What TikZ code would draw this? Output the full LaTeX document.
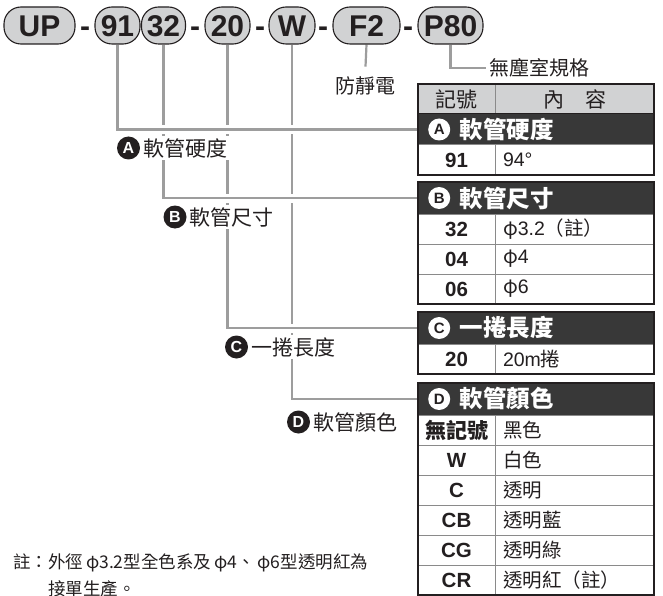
\documentclass[tikz,border=0pt]{standalone}
\usepackage{fontspec}
\setmainfont{Liberation Sans}
\newfontfamily\cjk{Noto Sans CJK TC}
\usetikzlibrary{positioning,backgrounds}
\definecolor{inkc}{HTML}{231F20}
\definecolor{pillg}{HTML}{D1D2D3}
\definecolor{wireg}{HTML}{9D9D9D}
\definecolor{barg}{HTML}{383838}
\definecolor{ruleg}{HTML}{8A8A8A}
\newcommand{\fsz}[1]{\fontsize{#1}{#1}\selectfont}

\begin{document}
\begin{tikzpicture}[
  x=1pt, y=-1pt,
  pill/.style={draw=inkc, line width=1.1pt, fill=pillg, rounded corners=17pt,
    minimum height=37pt, minimum width=#1, inner sep=0pt,
    text height=22pt, text depth=0pt, font=\fsz{30}\bfseries, text=inkc},
  hyph/.style={inner sep=0pt, text height=22pt, text depth=0pt,
    font=\fsz{30}\bfseries, text=inkc},
  wire/.style={draw=wireg, line width=2.2pt, preaction={draw=white, line width=9pt}},
  badge/.style={circle, fill=inkc, text=white, inner sep=0pt, minimum size=23pt,
    font=\fsz{16}\bfseries},
  tagtext/.style={fill=white, inner xsep=3pt, inner ysep=2pt, font=\cjk\fsz{21}, text=inkc},
  notelabel/.style={inner sep=0pt, font=\cjk\fsz{20}, text=inkc},
  remark/.style={inner sep=0pt, align=left, font=\cjk\fsz{17.5}, text=inkc},
  cell/.style={draw=ruleg, line width=1pt, fill=white, inner sep=0pt, outer sep=0pt,
    minimum height=30pt, anchor=north west, text=inkc},
  codecell/.style={cell, minimum width=77pt, font=\fsz{20.5}\bfseries},
  infocell/.style={cell, text width=143pt, inner xsep=8pt, align=left, font=\fsz{19.5}},
  headcell/.style={cell, fill=pillg, font=\cjk\fsz{21}},
  darkbar/.style={fill=barg, draw=inkc, line width=1pt, inner sep=0pt, outer sep=0pt,
    minimum width=236pt, minimum height=32pt, anchor=north west},
  wdot/.style={circle, fill=white, inner sep=0pt, minimum size=22pt, text=inkc,
    font=\fsz{15}\bfseries},
  bartitle/.style={inner sep=0pt, text=white, font=\cjk\fsz{23.5}\bfseries},
  tblframe/.style={draw=inkc, line width=2.4pt}
]
\useasboundingbox (0,0) rectangle (663,596);

% part number
\node[pill=71pt] (pUP) at (39.5,25.5) {UP};
\node[hyph] (h1) at (85,25.5) {-};
\node[pill=45pt] (p91) at (117.5,25.5) {91};
\node[pill=44pt] (p32) at (163.5,25.5) {32};
\node[hyph] (h2) at (195,25.5) {-};
\node[pill=45pt] (p20) at (227.5,25.5) {20};
\node[hyph] (h3) at (260,25.5) {-};
\node[pill=46pt] (pW) at (292,25.5) {W};
\node[hyph] (h4) at (323,25.5) {-};
\node[pill=67pt] (pF2) at (366.5,25.5) {F2};
\node[hyph] (h5) at (408,25.5) {-};
\node[pill=65pt] (pP80) at (450.5,25.5) {P80};

\node[notelabel, inner ysep=10pt] (static) at (365.5,86) {防靜電};
\node[notelabel, inner xsep=3pt, anchor=west] (clean) at (486,68) {無塵室規格};

% table A
\node[headcell, minimum width=77pt] (hd1) at (418,84) {記號};
\node[headcell, minimum width=159pt, right=0pt of hd1] (hd2) {內　容};
\node[darkbar, minimum height=31pt] (barA) at (418,114) {};
\node[wdot, right=10pt of barA.west] (dA) {A};
\node[bartitle, right=9pt of dA] (tA) {軟管硬度};
\node[codecell] (c91) at (418,145) {91};
\node[infocell, right=0pt of c91] (i91) {94°};
\draw[tblframe] (hd1.north west) rectangle (i91.south east);

% table B
\node[darkbar] (barB) at (418,182) {};
\node[wdot, right=10pt of barB.west] (dB) {B};
\node[bartitle, right=9pt of dB] (tB) {軟管尺寸};
\node[codecell] (c32) at (418,214) {32};
\node[infocell, right=0pt of c32] (i32) {{\cjk φ}3.2{\cjk （註）}};
\node[codecell] (c04) at (418,244) {04};
\node[infocell, right=0pt of c04] (i04) {{\cjk φ}4};
\node[codecell] (c06) at (418,274) {06};
\node[infocell, right=0pt of c06] (i06) {{\cjk φ}6};
\draw[tblframe] (barB.north west) rectangle (i06.south east);

% table C
\node[darkbar] (barC) at (418,312) {};
\node[wdot, right=10pt of barC.west] (dC) {C};
\node[bartitle, right=9pt of dC] (tC) {一捲長度};
\node[codecell] (c20) at (418,344) {20};
\node[infocell, right=0pt of c20] (i20) {20m{\cjk 捲}};
\draw[tblframe] (barC.north west) rectangle (i20.south east);

% table D
\node[darkbar] (barD) at (418,383) {};
\node[wdot, right=10pt of barD.west] (dD) {D};
\node[bartitle, right=9pt of dD] (tD) {軟管顏色};
\node[codecell, font=\cjk\fsz{21}\bfseries] (cnone) at (418,415) {無記號};
\node[infocell, right=0pt of cnone] (inone) {\cjk 黑色};
\node[codecell] (cW) at (418,445) {W};
\node[infocell, right=0pt of cW] (iW) {\cjk 白色};
\node[codecell] (cC) at (418,475) {C};
\node[infocell, right=0pt of cC] (iC) {\cjk 透明};
\node[codecell] (cCB) at (418,505) {CB};
\node[infocell, right=0pt of cCB] (iCB) {\cjk 透明藍};
\node[codecell] (cCG) at (418,535) {CG};
\node[infocell, right=0pt of cCG] (iCG) {\cjk 透明綠};
\node[codecell] (cCR) at (418,565) {CR};
\node[infocell, right=0pt of cCR] (iCR) {\cjk 透明紅（註）};
\draw[tblframe] (barD.north west) rectangle (iCR.south east);

% connectors
\begin{scope}[on background layer]
  \draw[wire] (pW.south) |- (barD.west);
  \draw[wire] (p20.south) |- (barC.west);
  \draw[wire] (p32.south) |- (barB.west);
  \draw[wire] (p91.south) |- (barA.west);
  \draw[wire] (pF2.south) -- (static.north);
  \draw[wire] (pP80.south) |- (clean.west);
\end{scope}

% labels on the connectors
\node[badge] (bA) at (128.5,148) {A};
\node[tagtext, right=0pt of bA] (lA) {軟管硬度};
\node[badge] (bB) at (175,217) {B};
\node[tagtext, right=0pt of bB] (lB) {軟管尺寸};
\node[badge] (bC) at (236.5,347) {C};
\node[tagtext, right=0pt of bC] (lC) {一捲長度};
\node[badge] (bD) at (298.5,422) {D};
\node[tagtext, right=0pt of bD] (lD) {軟管顏色};

\node[remark, anchor=north west] (note) at (13,554)
  {註：外徑\,φ3.2型全色系及\,φ4、\,φ6型透明紅為\\[7pt]\hspace*{2em}接單生產。};

\end{tikzpicture}
\end{document}
